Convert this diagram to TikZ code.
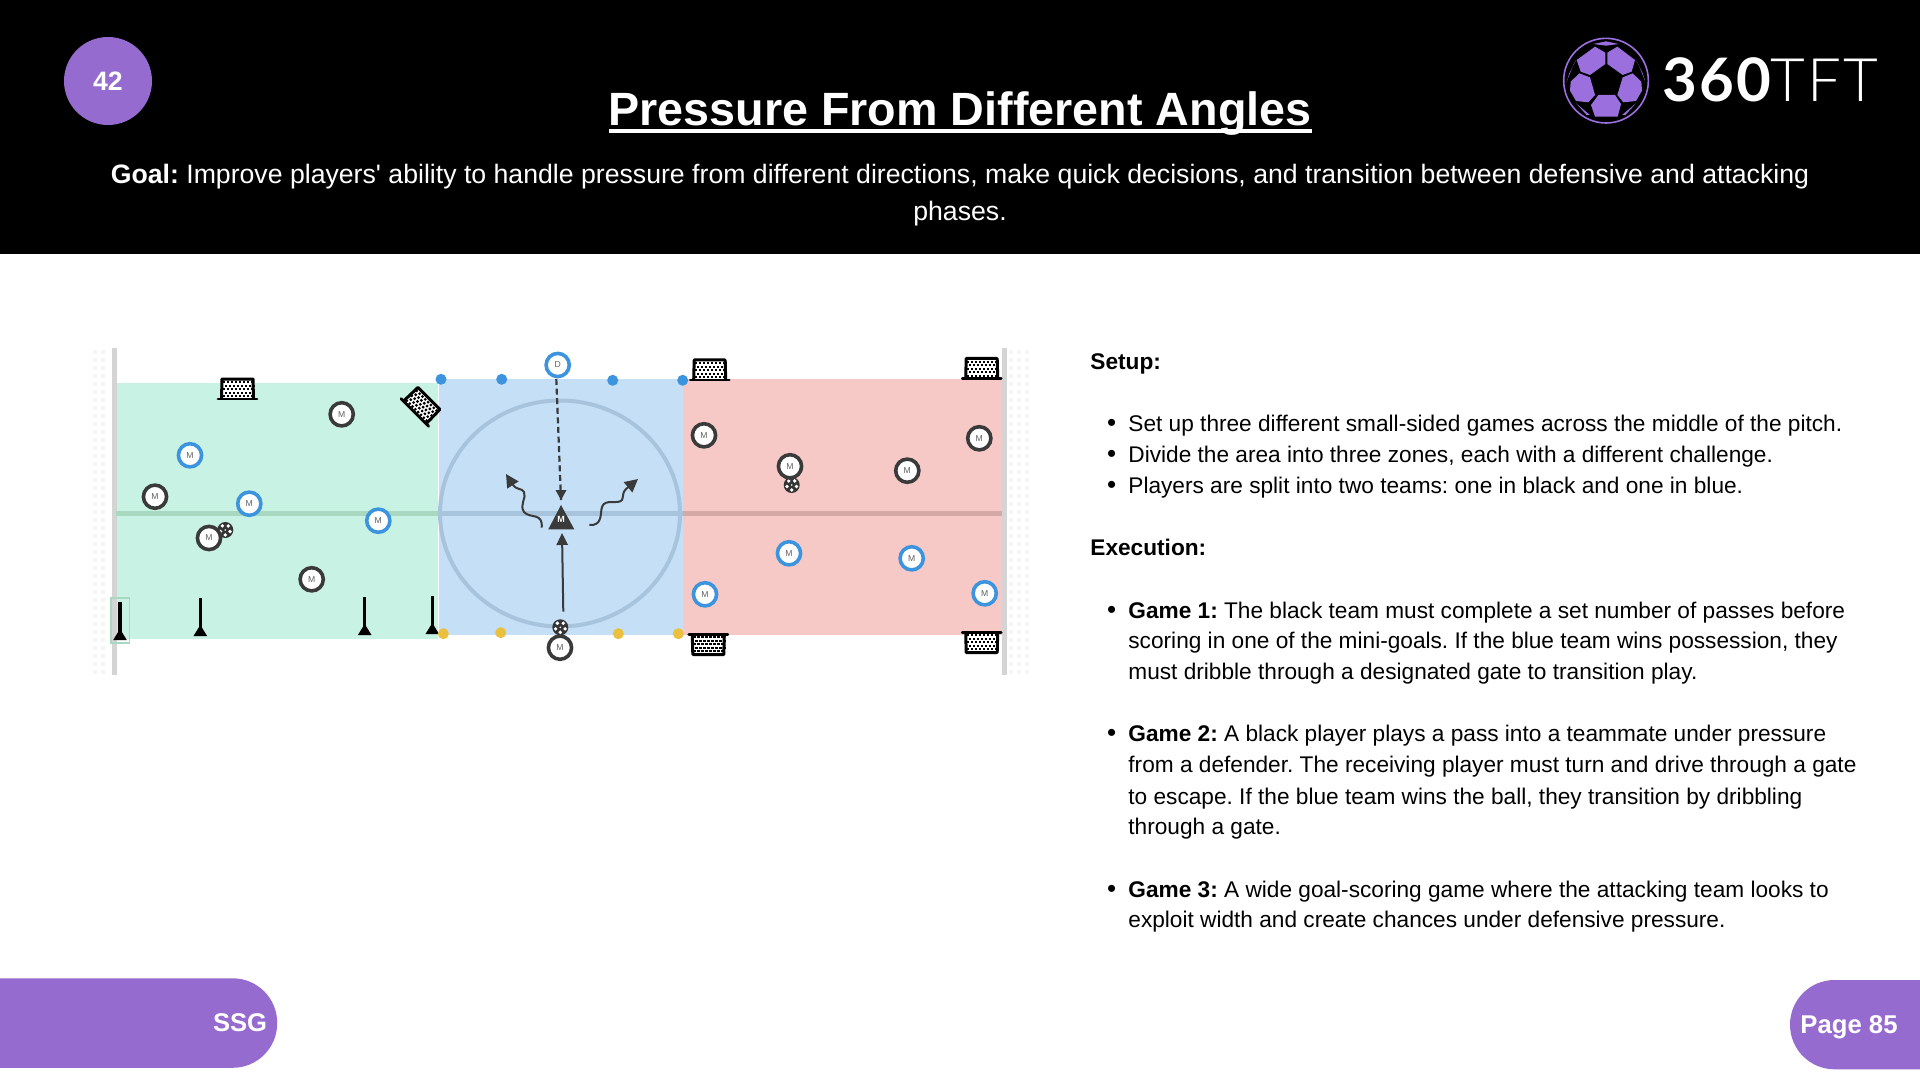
\documentclass[tikz,border=0pt]{standalone}
\usepackage{fontspec}
\setmainfont{Liberation Sans}[Ligatures=TeXOff]
\newfontfamily\logobold{Lato}[UprightFont=* Bold,LetterSpace=3.4]
\newfontfamily\logolight{Lato}[UprightFont=* Light,LetterSpace=3]
\usetikzlibrary{arrows.meta}
\definecolor{purp}{HTML}{966BCF}
\definecolor{logop}{HTML}{9B6FDE}
\definecolor{zgreen}{HTML}{C8F2E3}
\definecolor{zblue}{HTML}{C4DFF6}
\definecolor{zred}{HTML}{F6C9C7}
\definecolor{lgreen}{HTML}{A8D8C0}
\definecolor{lblue}{HTML}{A8C4DC}
\definecolor{lred}{HTML}{D4A8A4}
\definecolor{pblack}{HTML}{3A3A3A}
\definecolor{pblue}{HTML}{3D94DE}
\definecolor{dyel}{HTML}{EBC03F}
\newcommand{\thickul}[1]{\hbox{\setbox0=\hbox{#1}\copy0\kern-\wd0\vrule width\wd0 height -1.65pt depth 3.35pt}}
\frenchspacing
\tikzset{
  x=0.5pt,y=-0.5pt,
  playerk/.style={circle,draw=pblack,line width=1.8pt,fill=white,minimum size=11.6pt,inner sep=0pt,text=pblack!80,font=\fontsize{4.3}{4.3}\selectfont},
  playerb/.style={playerk,draw=pblue},
  dotb/.style={circle,fill=pblue,minimum size=5.5pt,inner sep=0pt},
  doty/.style={circle,fill=dyel,minimum size=5.5pt,inner sep=0pt},
  body/.style={anchor=base west,inner sep=0pt,font=\fontsize{11.33}{11.33}\selectfont},
  bul/.style={anchor=base,inner sep=0pt,font=\fontsize{13}{13}\selectfont},
  mov/.style={pblack,line width=1pt,-{Triangle[length=6pt,width=5.6pt]}},
  wav/.style={pblack,line width=1pt,-{Triangle[length=6.5pt,width=6.5pt]}},
  pics/goalp/.style={code={
    \fill[white] (-17,0) rectangle (17,-21);
    \foreach \r in {0,...,4}{\foreach \c in {0,...,7}{
      \fill[black] ({-14+\c*4+mod(\r,2)*2-1},{-2.8-\r*3.5-1}) rectangle ++(2.2,2.2);}}
    \draw[black,line width=1.5pt,line join=round] (-16,0) -- (-15.5,-20) -- (15.5,-20) -- (16,0);
    \draw[black,line width=1.4pt,line cap=round] (-19.5,0) -- (19.5,0);
  }},
  pics/polep/.style={code={
    \draw[black,line width=1.65pt] (0,0) -- (0,-38);
    \fill[black] (-6.8,0) -- (0,-11) -- (6.8,0) -- cycle;
  }},
  pics/ballp/.style={code={
    \fill[pblack!90!black] (0,0) circle (8);
    \foreach \a in {90,162,234,306,18}{\fill[white] (\a:5) circle (1.9);}
    \fill[white] (0,0) circle (0.9);
  }},
}
\begin{document}
\begin{tikzpicture}
\useasboundingbox (0,0) rectangle (1920,1080);
\fill[white] (0,0) rectangle (1920,1080);
% header
\fill[black] (0,0) rectangle (1920,254);
\node[circle,fill=purp,minimum size=44pt,inner sep=0pt,text=white,font=\fontsize{13.3}{13.3}\selectfont\bfseries] (badge) at (108,81) {42};
\node[anchor=base,inner sep=0pt,text=white,font=\fontsize{23.34}{23.34}\selectfont\bfseries] (title) at (960,126) {\thickul{Pressure From Different Angles}};
\node[anchor=base,inner sep=0pt,text=white,font=\fontsize{13.33}{13.33}\selectfont] (goal1) at (960,183.5) {\textbf{Goal:} Improve players' ability to handle pressure from different directions, make quick decisions, and transition between defensive and attacking};
\node[anchor=base,inner sep=0pt,text=white,font=\fontsize{13.33}{13.33}\selectfont] (goal2) at (960,220.5) {phases.};
% logo
\begin{scope}[shift={(1540,20)},x=0.16667pt,y=-0.16667pt]
\draw[logop,line width=0.8pt] (198,182) circle (127);
\fill[logop] (110,120)--(165,80)--(196,98)--(196,132)--(150,165)--(122,155)--cycle;
\fill[logop] (202,98)--(232,80)--(285,120)--(275,155)--(248,165)--(202,132)--cycle;
\fill[logop] (118,160)--(150,172)--(165,225)--(145,247)--(108,243)--(90,212)--(92,185)--cycle;
\fill[logop] (278,160)--(248,172)--(232,225)--(250,247)--(288,243)--(306,212)--(304,185)--cycle;
\fill[logop] (175,225)--(225,225)--(243,252)--(233,290)--(165,290)--(153,255)--cycle;
\fill[logop] (160,72)--(198,64)--(236,72)--(198,77)--cycle;
\fill[logop] (80,185)--(88,160)--(108,120)--(100,135)--cycle;
\fill[logop] (316,185)--(308,160)--(288,120)--(296,135)--cycle;
\fill[logop] (108,250)--(150,285)--(140,285)--cycle;
\fill[logop] (288,250)--(246,285)--(256,285)--cycle;
\end{scope}
\node[anchor=base west,inner sep=0pt,text=white,font=\fontsize{30}{30}\selectfont] (logotxt) at (1662,101.7) {{\logobold 360}{\logolight TFT}};
% field
\foreach \xx in {95,103,1011,1019,1027}{\foreach \yy in {352,360,...,672}{
  \fill[black!4] (\xx-2,\yy-2) rectangle ++(4,4);}}
\fill[zgreen] (115,383) rectangle (438,639);
\fill[zblue] (439,379) rectangle (683,635);
\fill[zred] (683,379) rectangle (1002,635);
\fill[black!17] (112,348) rectangle (117,675);
\fill[black!17] (1002,348) rectangle (1007,675);
\draw[lgreen,line width=2.2pt] (116,513.5) -- (439,513.5);
\draw[lblue,line width=2.2pt] (439,513.5) -- (683,513.5);
\draw[lred,line width=2.2pt] (683,513.5) -- (1002,513.5);
\draw[lblue,line width=2pt] (560,513.5) ellipse [x radius=120,y radius=113];
% goals
\pic at (237.5,399) {goalp};
\pic[rotate=-45] at (414.8,412.5) {goalp};
\pic at (709.7,380) {goalp};
\pic at (981.7,378.5) {goalp};
\pic[yscale=-1] at (708.3,634.5) {goalp};
\pic[yscale=-1] at (981.7,632.5) {goalp};
% poles
\draw[lgreen,line width=0.8pt] (110.7,598) rectangle (129.3,642.7);
\pic at (120,640) {polep};
\pic at (200.3,636) {polep};
\pic at (364.7,635) {polep};
\pic at (432.3,634) {polep};
% dots
\node[dotb] (db1) at (441,379.3) {};
\node[dotb] (db2) at (501.7,379.3) {};
\node[dotb] (db3) at (612.7,380.3) {};
\node[dotb] (db4) at (682.7,380.3) {};
\node[doty] (dy1) at (443.3,633.7) {};
\node[doty] (dy2) at (500.7,632.7) {};
\node[doty] (dy3) at (618.3,633.7) {};
\node[doty] (dy4) at (678.3,633.7) {};
% balls
\pic at (225.3,530) {ballp};
\pic at (791.7,485) {ballp};
% players green
\node[playerk] (g1) at (341.7,414.3) {M};
\node[playerk] (g2) at (155,496.7) {M};
\node[playerk] (g3) at (209,538) {M};
\node[playerk] (g4) at (311.7,579.3) {M};
\node[playerb] (g5) at (190,455.3) {M};
\node[playerb] (g6) at (249.3,503.7) {M};
\node[playerb] (g7) at (378.3,520.7) {M};
% players red
\node[playerk] (r1) at (704,435.3) {M};
\node[playerk] (r2) at (790,466.3) {M};
\node[playerk] (r3) at (907.3,470.7) {M};
\node[playerk] (r4) at (979.3,438.3) {M};
\node[playerb] (r5) at (789,553.3) {M};
\node[playerb] (r6) at (911.7,558.3) {M};
\node[playerb] (r7) at (705,594.3) {M};
\node[playerb] (r8) at (984.7,593.3) {M};
% centre
\node[playerb] (d) at (557.7,365) {D};
\node[playerk] (k) at (560,647.7) {M};
\pic at (560.3,627.3) {ballp};
\coordinate (ballc) at (563.3,611.7);
\fill[pblack] (561,505) -- (574.3,529.3) -- (548.3,529.3) -- cycle;
\node[inner sep=0pt,text=white,font=\fontsize{4.5}{4.5}\selectfont\bfseries] (tri) at (561,519) {M};
\coordinate (tritop) at (561,500);
\coordinate (tribot) at (562,533);
\coordinate (dbot) at (556.3,379);
\draw[pblack,line width=1.1pt,dash pattern=on 3pt off 1.8pt] (dbot) -- (tritop);
\fill[pblack] (tritop) -- ++(-5.5,-10) -- ++(11,0) -- cycle;
\draw[mov] (ballc) -- (tribot);
\coordinate (wl) at (541.7,527.7);
\coordinate (wlt) at (506,474);
\coordinate (wr) at (589.3,525);
\coordinate (wrt) at (638,479);
\draw[wav] (wl) .. controls (543,512) and (530,519) .. (524,512) .. controls (519,505) and (527,497) .. (524,492) .. controls (522,488) and (516,490) .. (wlt);
\draw[wav] (wr) .. controls (603,526) and (600,513) .. (602,507) .. controls (605,498) and (618,505) .. (622,500) .. controls (624,495) and (622,493) .. (626,489) -- (wrt);
% text column
\node[body] (t1) at (1090,369.3) {\textbf{Setup:}};
\node[bul] (b1) at (1111.7,431.7) {•};
\node[body] (t2) at (1128,431.7) {Set up three different small-sided games across the middle of the pitch.};
\node[bul] (b2) at (1111.7,462.5) {•};
\node[body] (t3) at (1128,462.5) {Divide the area into three zones, each with a different challenge.};
\node[bul] (b3) at (1111.7,493.3) {•};
\node[body] (t4) at (1128,493.3) {Players are split into two teams: one in black and one in blue.};
\node[body] (t5) at (1090,555.5) {\textbf{Execution:}};
\node[bul] (b4) at (1111.7,618) {•};
\node[body] (t6) at (1128,618) {\textbf{Game 1:} The black team must complete a set number of passes before};
\node[body] (t7) at (1128,648.8) {scoring in one of the mini-goals. If the blue team wins possession, they};
\node[body] (t8) at (1128,679.6) {must dribble through a designated gate to transition play.};
\node[bul] (b5) at (1111.7,741.5) {•};
\node[body] (t9) at (1128,741.5) {\textbf{Game 2:} A black player plays a pass into a teammate under pressure};
\node[body] (t10) at (1128,772.5) {from a defender. The receiving player must turn and drive through a gate};
\node[body] (t11) at (1128,804) {to escape. If the blue team wins the ball, they transition by dribbling};
\node[body] (t12) at (1128,834.8) {through a gate.};
\node[bul] (b6) at (1111.7,897) {•};
\node[body] (t13) at (1128,897) {\textbf{Game 3:} A wide goal-scoring game where the attacking team looks to};
\node[body] (t14) at (1128,927.8) {exploit width and create chances under defensive pressure.};
% pills
\fill[purp,rounded corners=22.25pt] (-100,978.3) rectangle (277.2,1067.8);
\node[anchor=base east,inner sep=0pt,text=white,font=\fontsize{12.8}{12.8}\selectfont\bfseries] (ssg) at (267.5,1031.5) {SSG};
\fill[purp,rounded corners=22.25pt] (1790,980) rectangle (2100,1069.3);
\node[anchor=base west,inner sep=0pt,text=white,font=\fontsize{12.85}{12.85}\selectfont\bfseries] (page) at (1800,1033) {Page 85};
\end{tikzpicture}
\end{document}
